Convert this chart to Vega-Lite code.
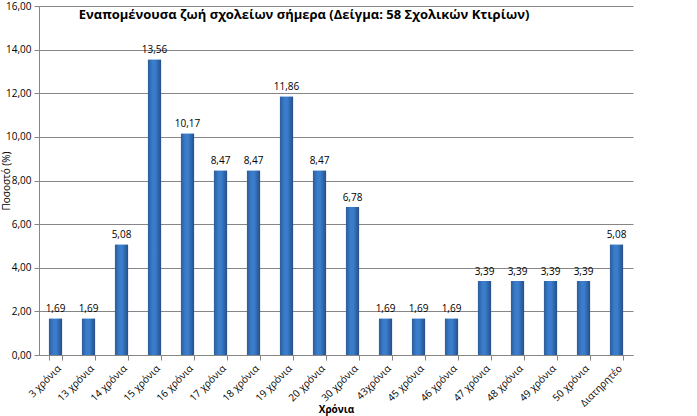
{
  "$schema": "https://vega.github.io/schema/vega-lite/v6.json",
  "autosize": "none",
  "width": 594,
  "height": 349,
  "padding": {"left": 39, "top": 6, "right": 64, "bottom": 61},
  "background": "white",
  "config": {
    "locale": {"number": {"decimal": ",", "thousands": ".", "grouping": [3], "currency": ["", " €"]}},
    "font": "Open Sans",
    "view": {"stroke": null}
  },
  "title": {
    "text": "Εναπομένουσα ζωή σχολείων σήμερα (Δείγμα: 58 Σχολικών Κτιρίων)",
    "font": "Open Sans",
    "fontSize": 13,
    "fontWeight": "bold",
    "color": "#000000",
    "frame": "group",
    "anchor": "middle",
    "baseline": "top",
    "dx": -32,
    "offset": -21
  },
  "data": {
    "values": [
      {"cat": "3 χρόνια", "v": 1.69},
      {"cat": "13 χρόνια", "v": 1.69},
      {"cat": "14 χρόνια", "v": 5.08},
      {"cat": "15 χρόνια", "v": 13.56},
      {"cat": "16 χρόνια", "v": 10.17},
      {"cat": "17 χρόνια", "v": 8.47},
      {"cat": "18 χρόνια", "v": 8.47},
      {"cat": "19 χρόνια", "v": 11.86},
      {"cat": "20 χρόνια", "v": 8.47},
      {"cat": "30 χρόνια", "v": 6.78},
      {"cat": "43χρόνια", "v": 1.69},
      {"cat": "45 χρόνια", "v": 1.69},
      {"cat": "46 χρόνια", "v": 1.69},
      {"cat": "47 χρόνια", "v": 3.39},
      {"cat": "48 χρόνια", "v": 3.39},
      {"cat": "49 χρόνια", "v": 3.39},
      {"cat": "50 χρόνια", "v": 3.39},
      {"cat": "Διατηρητέο", "v": 5.08}
    ]
  },
  "encoding": {
    "x": {
      "field": "cat",
      "type": "nominal",
      "sort": null,
      "scale": {"paddingInner": 0.58, "paddingOuter": 0.29},
      "axis": {
        "title": "Χρόνια",
        "titleFont": "Open Sans",
        "titleFontSize": 10,
        "titleFontWeight": "bold",
        "titleColor": "#000000",
        "titlePadding": -4,
        "labelAngle": -45,
        "labelFontSize": 10,
        "labelColor": "#000000",
        "labelPadding": 3,
        "domainColor": "#868686",
        "tickColor": "#868686",
        "tickBand": "extent",
        "tickSize": 5,
        "grid": false
      }
    },
    "y": {
      "field": "v",
      "type": "quantitative",
      "scale": {"domain": [0, 16], "nice": false},
      "axis": {
        "title": "Ποσοστό (%)",
        "titleFont": "Open Sans",
        "titleFontSize": 10,
        "titleFontWeight": "normal",
        "titleColor": "#000000",
        "titlePadding": -6,
        "values": [0, 2, 4, 6, 8, 10, 12, 14, 16],
        "format": ".2f",
        "labelFontSize": 10,
        "labelColor": "#000000",
        "labelPadding": 3,
        "domainColor": "#868686",
        "tickColor": "#868686",
        "tickSize": 5,
        "grid": true,
        "gridColor": "#868686",
        "gridWidth": 1
      }
    }
  },
  "layer": [
    {
      "mark": {
        "type": "bar",
        "cornerRadius": 1,
        "color": {
          "gradient": "linear",
          "x1": 0, "y1": 0, "x2": 1, "y2": 0,
          "stops": [
            {"offset": 0, "color": "#2a5a95"},
            {"offset": 0.35, "color": "#3a7ccc"},
            {"offset": 0.55, "color": "#3b7dcd"},
            {"offset": 1, "color": "#234d85"}
          ]
        }
      }
    },
    {
      "mark": {"type": "text", "baseline": "bottom", "dy": -4, "fontSize": 10, "color": "#000000", "font": "Open Sans"},
      "encoding": {"text": {"field": "v", "type": "quantitative", "format": ".2f"}}
    }
  ]
}
